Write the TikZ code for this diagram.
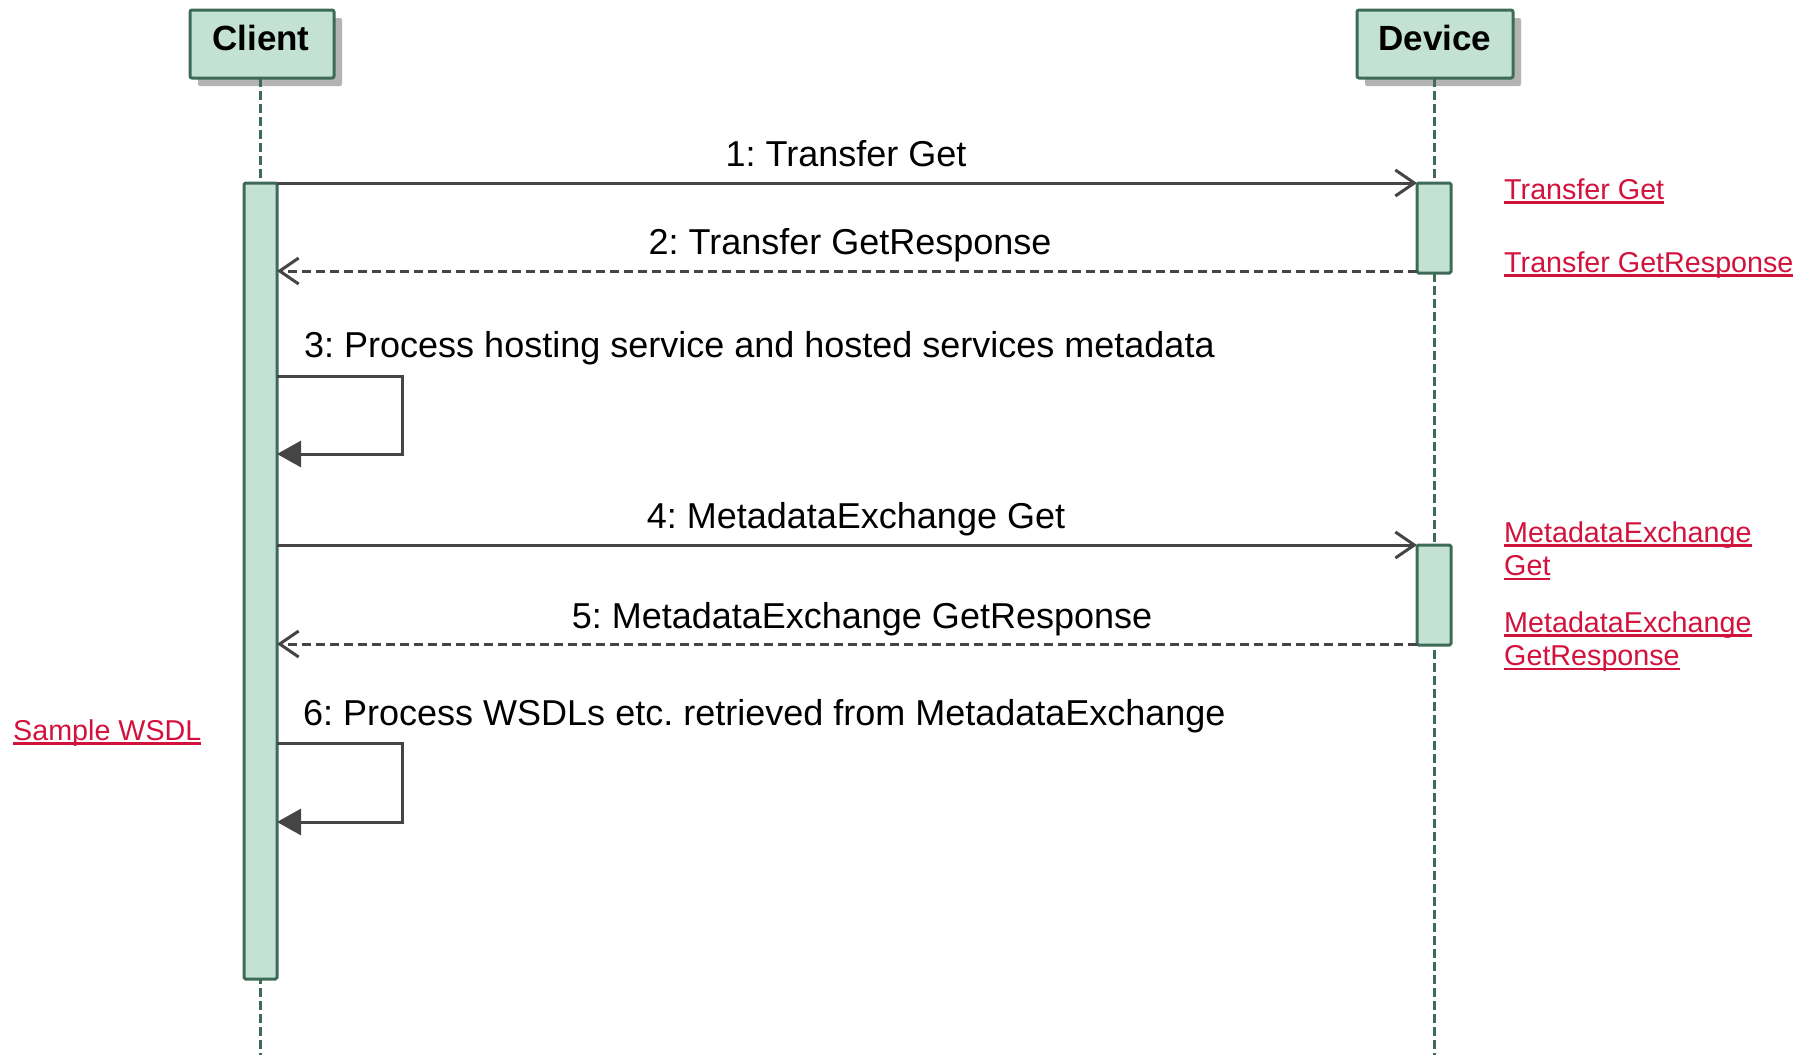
\documentclass[tikz,border=0pt]{standalone}
\usepackage{fontspec}
\setmainfont{Liberation Sans}
\usetikzlibrary{arrows.meta}

\definecolor{lanefill}{HTML}{C3E2D4}
\definecolor{laneline}{HTML}{3D6B57}
\definecolor{msgline}{HTML}{454545}
\definecolor{linkred}{HTML}{D2123C}
\definecolor{shadowgray}{HTML}{B3B3B3}

\frenchspacing

% underlined hyperlink-style text
\newcommand\ulink[1]{\setbox0\hbox{#1}\rlap{\rule[-4.6pt]{\wd0}{2.2pt}}\box0}

\tikzset{
  header/.style={draw=laneline, fill=lanefill, line width=3pt, rounded corners=2pt,
    minimum height=68pt, inner sep=0pt, outer sep=0pt},
  hdrshadow/.style={fill=shadowgray, draw=none, rounded corners=2pt,
    minimum height=68pt, inner sep=0pt, outer sep=0pt},
  hdrtext/.style={font=\fontsize{35}{40}\selectfont\bfseries, inner sep=0pt, anchor=base},
  lifeline/.style={draw=laneline, line width=3pt, dash pattern=on 8.5pt off 4.5pt},
  actbar/.style={draw=laneline, fill=lanefill, line width=3pt, rounded corners=1.5pt,
    inner sep=0pt, outer sep=0pt, minimum width=33pt},
  msgtext/.style={font=\fontsize{36}{42}\selectfont, inner sep=0pt, anchor=base},
  msg/.style={draw=msgline, line width=3pt,
    -{Straight Barb[length=19pt,width=26pt,line width=3pt]}},
  reply/.style={msg, dash pattern=on 9.5pt off 4.5pt},
  selfmsg/.style={draw=msgline, line width=3pt,
    -{Triangle[length=24pt,width=26pt]}},
  linktext/.style={font=\fontsize{28.7}{33.5}\selectfont, text=linkred, inner sep=0pt,
    anchor=base west, align=left},
}

\begin{document}
\begin{tikzpicture}[x=1pt, y=-1pt]
  \useasboundingbox (0,0) rectangle (1812,1055);

  % lifeline heads with drop shadows
  \node[hdrshadow, minimum width=144pt] (clientsh) at (270,52) {};
  \node[hdrshadow, minimum width=156pt] (devicesh) at (1443,52) {};
  \node[header, minimum width=144pt] (client) at (262,44) {};
  \node[header, minimum width=156pt] (device) at (1435,44) {};
  \node[hdrtext] (clientlbl) at (261,50) {Client};
  \node[hdrtext] (devicelbl) at (1435,50) {Device};

  % lifelines
  \coordinate (clientend) at (260,1055);
  \coordinate (deviceend) at (1434,1055);
  \draw[lifeline] (client.south -| clientend) -- (clientend);
  \draw[lifeline] (device.south -| deviceend) -- (deviceend);

  % activation bars
  \node[actbar, minimum height=796pt] (cact) at (260.5,581) {};
  \node[actbar, minimum height=90pt, minimum width=34pt] (dact1) at (1434,228) {};
  \node[actbar, minimum height=100pt, minimum width=34pt] (dact2) at (1434,595) {};

  % 1 / 2: Transfer
  \draw[msg] (cact.east |- dact1.north) -- (dact1.north west);
  \node[msgtext] (m1) at (846,166) {1: Transfer Get};
  \coordinate (r2) at (0,271);
  \draw[reply] (dact1.west |- r2) -- (cact.east |- r2);
  \node[msgtext] (m2) at (850,254) {2: Transfer GetResponse};

  % 3: self call
  \coordinate (s3a) at (0,376);
  \coordinate (s3b) at (0,454);
  \draw[selfmsg] (cact.east |- s3a) -- ++(125,0) -- ++(0,78) -- (cact.east |- s3b);
  \node[msgtext, anchor=base west] (m3) at (304,357)
    {3: Process hosting service and hosted services metadata};

  % 4 / 5: MetadataExchange
  \draw[msg] (cact.east |- dact2.north) -- (dact2.north west);
  \node[msgtext] (m4) at (856,528) {4: MetadataExchange Get};
  \coordinate (r5) at (0,644);
  \draw[reply] (dact2.west |- r5) -- (cact.east |- r5);
  \node[msgtext] (m5) at (862,628) {5: MetadataExchange GetResponse};

  % 6: self call
  \coordinate (s6a) at (0,743);
  \coordinate (s6b) at (0,822);
  \draw[selfmsg] (cact.east |- s6a) -- ++(125,0) -- ++(0,79) -- (cact.east |- s6b);
  \node[msgtext, anchor=base west] (m6) at (303,725)
    {6: Process WSDLs etc. retrieved from MetadataExchange};

  % reference links (multi-line nodes sit on their last baseline)
  \node[linktext] (lk1) at (1504,199) {\ulink{Transfer Get}};
  \node[linktext] (lk2) at (1504,272) {\ulink{Transfer GetResponse}};
  \node[linktext] (lk3) at (1504,575.5) {\ulink{MetadataExchange}\\\ulink{Get}};
  \node[linktext] (lk4) at (1504,665.5) {\ulink{MetadataExchange}\\\ulink{GetResponse}};
  \node[linktext] (lk5) at (13,740) {\ulink{Sample WSDL}};
\end{tikzpicture}
\end{document}
